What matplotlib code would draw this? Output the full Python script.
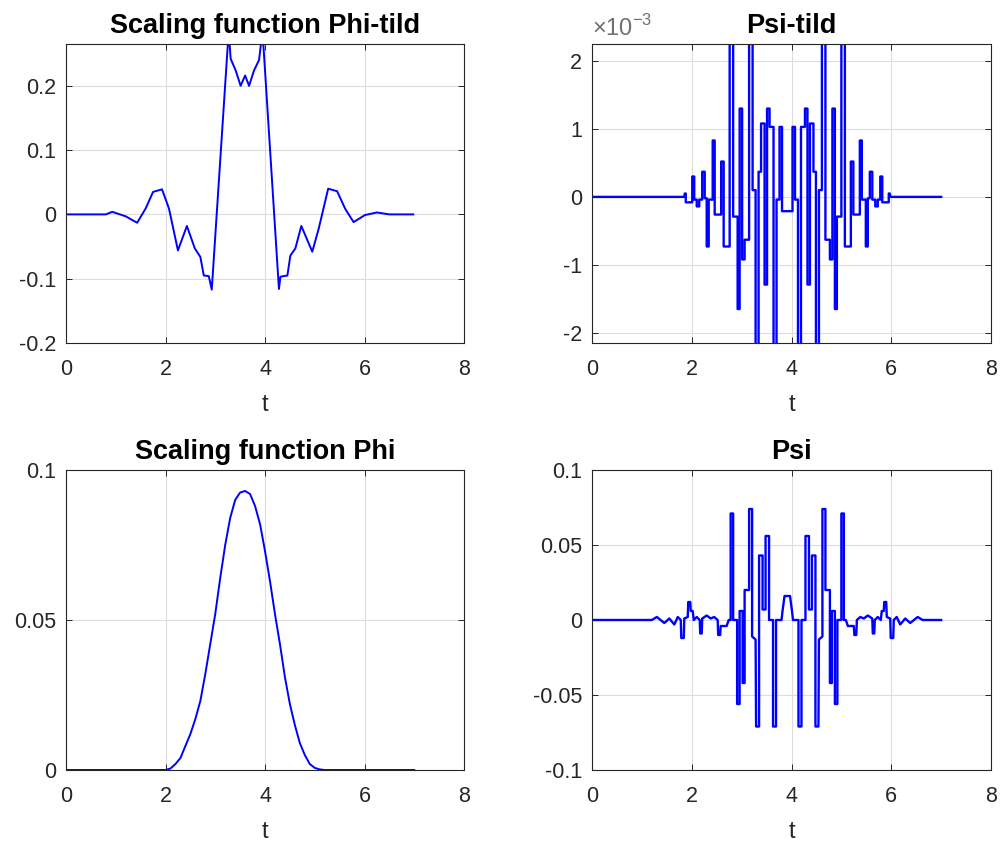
import numpy as np
import matplotlib
matplotlib.use("Agg")
from matplotlib import pyplot as plt

plt.rcParams['font.family'] = ['Liberation Sans', 'DejaVu Sans']
plt.rcParams['axes.unicode_minus'] = False
plt.rcParams['mathtext.fontset'] = 'custom'
plt.rcParams['mathtext.rm'] = 'Liberation Sans'

# scaling function phi-tild
phit_t = [0.00, 0.80, 0.93, 1.20, 1.43, 1.60, 1.75, 1.93, 2.07, 2.25, 2.43, 2.59, 2.70, 2.77, 2.87, 2.93,
          3.27, 3.31, 3.41, 3.51, 3.60, 3.68, 3.78, 3.88, 3.95,
          4.28, 4.31, 4.45, 4.51, 4.61, 4.73, 4.95, 5.08, 5.27, 5.45, 5.61, 5.78, 6.01, 6.25, 6.50, 6.98]
phit_y = [0.000, 0.000, 0.004, -0.003, -0.013, 0.009, 0.035, 0.039, 0.009, -0.056, -0.018, -0.053, -0.066, -0.095, -0.096, -0.117,
          0.285, 0.242, 0.224, 0.200, 0.216, 0.200, 0.224, 0.240, 0.285,
          -0.116, -0.097, -0.095, -0.064, -0.053, -0.018, -0.058, -0.022, 0.040, 0.036, 0.009, -0.012, -0.001, 0.003, 0.000, 0.000]

# psi-tild, values in units of 1e-3
psit_t = [0.00, 1.85, 1.86, 1.88, 1.88, 2.01, 2.01, 2.05, 2.05, 2.10, 2.10, 2.15, 2.15, 2.21, 2.21, 2.26, 2.26,
          2.30, 2.30, 2.34, 2.34, 2.42, 2.42, 2.46, 2.46, 2.59, 2.59, 2.64, 2.64, 2.76, 2.76, 2.83, 2.83,
          2.92, 2.92, 2.96, 2.96, 3.01, 3.01, 3.06, 3.06, 3.15, 3.15, 3.22, 3.22, 3.28, 3.28, 3.34, 3.34,
          3.39, 3.39, 3.46, 3.46, 3.51, 3.51, 3.56, 3.56, 3.64, 3.64, 3.70, 3.70, 3.76, 3.76, 3.81, 3.81,
          4.02, 4.02, 4.07, 4.07, 4.13, 4.13, 4.19, 4.19, 4.27, 4.27, 4.32, 4.32, 4.37, 4.37, 4.44, 4.44,
          4.49, 4.49, 4.55, 4.55, 4.61, 4.61, 4.68, 4.68, 4.77, 4.77, 4.82, 4.82, 4.87, 4.87, 4.91, 4.91,
          5.00, 5.00, 5.07, 5.07, 5.19, 5.19, 5.24, 5.24, 5.37, 5.37, 5.41, 5.41, 5.49, 5.49, 5.53, 5.53,
          5.57, 5.57, 5.62, 5.62, 5.68, 5.68, 5.73, 5.73, 5.78, 5.78, 5.82, 5.82, 5.95, 5.95, 5.97, 5.98, 7.00]
psit_y = [0.00, 0.00, 0.05, 0.05, -0.08, -0.08, 0.30, 0.30, -0.04, -0.04, -0.14, -0.14, -0.04, -0.04, 0.37, 0.37, -0.02,
          -0.02, -0.73, -0.73, -0.04, -0.04, 0.83, 0.83, -0.26, -0.26, 0.52, 0.52, -0.73, -0.73, 2.60, 2.60, -0.29,
          -0.29, -1.65, -1.65, 1.30, 1.30, -0.92, -0.92, -0.63, -0.63, 2.60, 2.60, 0.10, 0.10, -2.60, -2.60, 0.37,
          0.37, 1.08, 1.08, -1.29, -1.29, 1.30, 1.30, 1.03, 1.03, -2.60, -2.60, -0.04, -0.04, 1.03, 1.03, -0.21,
          -0.21, 1.03, 1.03, -0.04, -0.04, -2.60, -2.60, 1.03, 1.03, 1.30, 1.30, -1.29, -1.29, 1.08, 1.08, 0.37,
          0.37, -2.60, -2.60, 0.10, 0.10, 2.60, 2.60, -0.63, -0.63, -0.92, -0.92, 1.30, 1.30, -1.65, -1.65, -0.29,
          -0.29, 2.60, 2.60, -0.73, -0.73, 0.52, 0.52, -0.26, -0.26, 0.83, 0.83, -0.04, -0.04, -0.73, -0.73, -0.02,
          -0.02, 0.37, 0.37, -0.04, -0.04, -0.14, -0.14, -0.04, -0.04, 0.30, 0.30, -0.08, -0.08, 0.05, 0.05, 0.00, 0.00]

# scaling function phi
phi_t = [0.0, 2.0, 2.1, 2.2, 2.3, 2.4, 2.5, 2.6, 2.7, 2.8, 2.9, 3.0, 3.1, 3.2, 3.3, 3.4, 3.5, 3.6,
         3.7, 3.8, 3.9, 4.0, 4.1, 4.2, 4.3, 4.4, 4.5, 4.6, 4.7, 4.8, 4.9, 5.0, 5.1, 5.2, 7.0]
phi_y = [0.0, 0.0, 0.0005, 0.002, 0.004, 0.008, 0.012, 0.017, 0.023, 0.032, 0.042, 0.052, 0.064, 0.075, 0.084, 0.090, 0.0925, 0.093,
         0.092, 0.088, 0.082, 0.073, 0.063, 0.052, 0.042, 0.031, 0.022, 0.015, 0.009, 0.005, 0.002, 0.0007, 0.0002, 0.0, 0.0]

# psi
psi_t = [0.00, 1.20, 1.30, 1.45, 1.55, 1.65, 1.72, 1.78, 1.79, 1.84, 1.85, 1.92, 1.93, 1.97, 1.98, 2.02, 2.04, 2.10, 2.16,
         2.17, 2.20, 2.21, 2.30, 2.38, 2.45, 2.52, 2.53, 2.57, 2.58, 2.70, 2.74, 2.78, 2.78, 2.83, 2.83,
         2.91, 2.91, 2.96, 2.96, 3.02, 3.02, 3.06, 3.06, 3.15, 3.15, 3.21, 3.21, 3.28, 3.29, 3.35, 3.35,
         3.42, 3.42, 3.48, 3.48, 3.55, 3.55, 3.63, 3.63, 3.69, 3.69, 3.80, 3.82, 3.86, 3.97, 4.01, 4.03,
         4.14, 4.14, 4.20, 4.20, 4.28, 4.28, 4.35, 4.35, 4.41, 4.41, 4.48, 4.48, 4.54, 4.55, 4.62, 4.62,
         4.68, 4.68, 4.77, 4.77, 4.81, 4.81, 4.87, 4.87, 4.92, 4.92, 5.00, 5.00, 5.05, 5.05, 5.09, 5.13,
         5.25, 5.26, 5.30, 5.31, 5.38, 5.45, 5.53, 5.62, 5.63, 5.66, 5.67, 5.73, 5.79, 5.81, 5.85, 5.86,
         5.90, 5.91, 5.98, 5.99, 6.04, 6.05, 6.11, 6.18, 6.28, 6.38, 6.53, 6.63, 7.00]
psi_y = [0.000, 0.000, 0.002, -0.002, 0.001, -0.003, 0.002, 0.000, -0.012, -0.012, 0.001, 0.002, 0.012, 0.012, 0.006, 0.006, 0.000, 0.002, 0.000,
         -0.009, -0.009, 0.001, 0.003, 0.001, 0.002, 0.000, -0.010, -0.010, -0.004, -0.004, 0.000, 0.000, 0.071, 0.071, 0.000,
         0.000, -0.056, -0.056, 0.006, 0.006, -0.042, -0.042, 0.020, 0.020, 0.074, 0.074, -0.011, -0.013, -0.071, -0.071, 0.043,
         0.043, 0.007, 0.007, 0.056, 0.056, 0.000, 0.000, -0.071, -0.071, 0.000, 0.000, 0.006, 0.016, 0.016, 0.006, 0.000,
         0.000, -0.071, -0.071, 0.000, 0.000, 0.056, 0.056, 0.007, 0.007, 0.043, 0.043, -0.071, -0.071, -0.013, -0.011, 0.074,
         0.074, 0.020, 0.020, -0.042, -0.042, 0.006, 0.006, -0.056, -0.056, 0.000, 0.000, 0.071, 0.071, 0.000, 0.000, -0.004,
         -0.004, -0.010, -0.010, 0.000, 0.002, 0.001, 0.003, 0.001, -0.009, -0.009, 0.000, 0.002, 0.000, 0.006, 0.006, 0.012,
         0.012, 0.002, 0.001, -0.012, -0.012, 0.000, 0.002, -0.003, 0.001, -0.002, 0.002, 0.000, 0.000]

grey = '#262626'
tick_size = 15.5


def style_axes(ax, title, ylim, yticks, yticklabels):
    ax.set_xlim(0, 8)
    ax.set_ylim(*ylim)
    ax.set_xticks([0, 2, 4, 6, 8])
    ax.set_xticklabels(['0', '2', '4', '6', '8'])
    ax.set_yticks(yticks)
    ax.set_yticklabels(yticklabels)
    ax.grid(True, color='#dcdcdc', linewidth=0.8)
    ax.set_axisbelow(True)
    ax.tick_params(direction='in', length=4, width=0.7, colors=grey, labelsize=tick_size,
                   top=True, right=True, pad=7)
    ax.tick_params(axis='x', pad=11.5)
    for s in ax.spines.values():
        s.set_color(grey)
        s.set_linewidth(0.8)
    ax.set_title(title, fontsize=19.5, fontweight='bold', color='#000000', pad=8)
    ax.set_xlabel('t', fontsize=17, color=grey, labelpad=10)


fig = plt.figure(figsize=(10.02, 8.46), dpi=100)
W, H = 1002.0, 846.0
ax1 = fig.add_axes([66 / W, 1 - 343 / H, 398 / W, 299 / H])
ax2 = fig.add_axes([592 / W, 1 - 343 / H, 399 / W, 299 / H])
ax3 = fig.add_axes([66 / W, 1 - 770 / H, 398 / W, 300 / H])
ax4 = fig.add_axes([592 / W, 1 - 770 / H, 399 / W, 300 / H])

ax1.plot(phit_t, phit_y, color='#0000ff', linewidth=1.4)
style_axes(ax1, 'Scaling function Phi-tild', (-0.2, 0.265),
           [-0.2, -0.1, 0, 0.1, 0.2], ['-0.2', '-0.1', '0', '0.1', '0.2'])

ax2.plot(psit_t, psit_y, color='#0000ff', linewidth=1.7)
style_axes(ax2, 'Psi-tild', (-2.15, 2.25),
           [-2, -1, 0, 1, 2], ['-2', '-1', '0', '1', '2'])
ax2.text(0.0, 1.01, r'$\times10^{-3}$', transform=ax2.transAxes, fontsize=17,
         color='#707070', ha='left', va='bottom')

ax3.plot(phi_t, phi_y, color='#0000ff', linewidth=1.4)
style_axes(ax3, 'Scaling function Phi', (0, 0.1),
           [0, 0.05, 0.1], ['0', '0.05', '0.1'])

ax4.plot(psi_t, psi_y, color='#0000ff', linewidth=1.7)
style_axes(ax4, 'Psi', (-0.1, 0.1),
           [-0.1, -0.05, 0, 0.05, 0.1], ['-0.1', '-0.05', '0', '0.05', '0.1'])

fig.savefig('out.png', dpi=100)
